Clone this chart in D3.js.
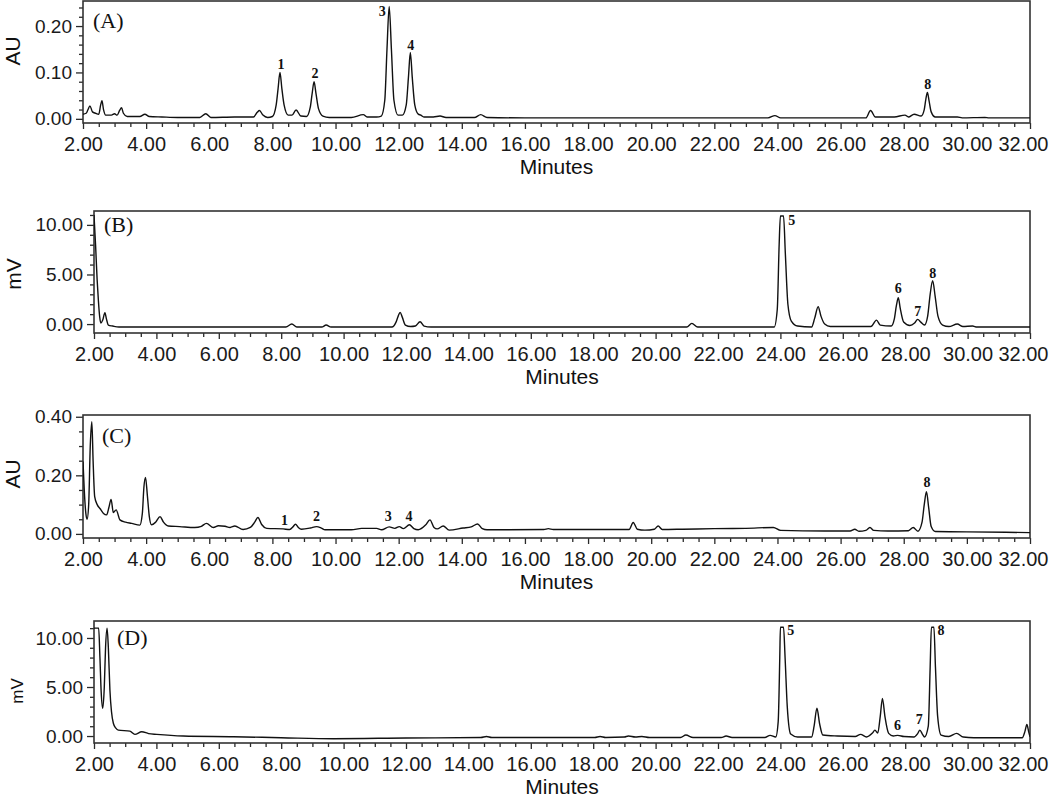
<!DOCTYPE html>
<html>
<head>
<meta charset="utf-8">
<script src="https://cdn.jsdelivr.net/npm/d3@7"></script>
<style>
body { margin: 0; background: #fff; }
svg { display: block; }
</style>
</head>
<body>
<div id="chart"></div>
<script>
// retention time axis, shared by all four runs
var xMajor = [2, 4, 6, 8, 10, 12, 14, 16, 18, 20, 22, 24, 26, 28, 30, 32];
var xMinor = [2.5, 3, 3.5, 4.5, 5, 5.5, 6.5, 7, 7.5, 8.5, 9, 9.5, 10.5, 11, 11.5, 12.5, 13, 13.5,
  14.5, 15, 15.5, 16.5, 17, 17.5, 18.5, 19, 19.5, 20.5, 21, 21.5, 22.5, 23, 23.5, 24.5, 25, 25.5,
  26.5, 27, 27.5, 28.5, 29, 29.5, 30.5, 31, 31.5];

// y ticks
var yMajorA = [0, 0.1, 0.2];
var yMinorA = [0.02, 0.04, 0.06, 0.08, 0.12, 0.14, 0.16, 0.18, 0.22, 0.24];
var yMajorB = [0, 5, 10];
var yMinorB = [1, 2, 3, 4, 6, 7, 8, 9, 11];
var yMajorC = [0, 0.2, 0.4];
var yMinorC = [0.05, 0.1, 0.15, 0.25, 0.3, 0.35];
var yMajorD = [0, 5, 10];
var yMinorD = [1, 2, 3, 4, 6, 7, 8, 9, 11];

// (A) standards, UV  [minutes, AU]
var traceA = [[2.00,0.010],[2.10,0.012],[2.16,0.020],[2.22,0.028],[2.30,0.015],[2.40,0.012],[2.50,0.010],
  [2.56,0.030],[2.60,0.039],[2.65,0.020],[2.72,0.008],[2.90,0.008],[3.00,0.011],[3.08,0.008],[3.16,0.018],
  [3.22,0.024],[3.28,0.012],[3.40,0.005],[3.80,0.005],[3.96,0.010],[4.10,0.005],[4.50,0.004],[5.00,0.003],
  [5.70,0.003],[5.89,0.011],[6.05,0.003],[6.80,0.004],[7.00,0.004],[7.40,0.004],[7.52,0.014],[7.59,0.018],
  [7.70,0.008],[7.85,0.003],[8.00,0.005],[8.12,0.030],[8.18,0.065],[8.24,0.100],[8.30,0.065],[8.37,0.030],
  [8.50,0.008],[8.62,0.008],[8.75,0.019],[8.90,0.006],[9.08,0.005],[9.20,0.025],[9.26,0.055],[9.32,0.080],
  [9.38,0.055],[9.46,0.022],[9.60,0.006],[9.80,0.003],[10.50,0.003],[10.88,0.009],[11.00,0.004],[11.30,0.004],
  [11.45,0.006],[11.56,0.040],[11.63,0.150],[11.70,0.242],[11.77,0.150],[11.85,0.040],[11.98,0.008],
  [12.12,0.008],[12.24,0.030],[12.31,0.090],[12.37,0.143],[12.43,0.090],[12.51,0.030],[12.62,0.010],
  [12.70,0.008],[12.80,0.004],[13.10,0.004],[13.31,0.006],[13.50,0.003],[14.40,0.003],[14.60,0.009],
  [14.80,0.003],[16.00,0.002],[23.70,0.002],[23.92,0.007],[24.10,0.002],[26.80,0.002],[26.95,0.018],
  [27.10,0.004],[27.40,0.004],[27.70,0.004],[28.04,0.008],[28.15,0.004],[28.33,0.010],[28.55,0.006],
  [28.65,0.020],[28.70,0.042],[28.75,0.057],[28.80,0.040],[28.87,0.015],[29.00,0.004],[29.70,0.004],
  [29.85,0.002],[30.57,0.003],[30.70,0.002],[32.00,0.002]];
var labelsA = [["1",8.27,0.108],["2",9.35,0.088],["3",11.48,0.2215],["4",12.38,0.148],["8",28.76,0.0645]];

// (B) standards, second detector  [minutes, mV]
var traceB = [[2.00,11.0],[2.05,8.0],[2.10,4.5],[2.14,2.4],[2.18,0.8],[2.22,0.1],[2.28,0.4],[2.35,1.15],
  [2.40,0.5],[2.46,-0.1],[2.60,-0.2],[2.80,-0.3],[4.00,-0.3],[8.15,-0.3],[8.34,0.0],[8.50,-0.3],[9.30,-0.3],
  [9.44,-0.1],[9.60,-0.3],[11.55,-0.3],[11.68,0.2],[11.75,0.8],[11.81,1.18],[11.88,0.7],[11.98,-0.1],
  [12.15,-0.25],[12.30,-0.2],[12.45,0.23],[12.58,-0.2],[12.80,-0.3],[21.00,-0.3],[21.16,0.07],[21.35,-0.3],
  [23.80,-0.3],[23.90,1.5],[23.96,8.0],[24.00,10.9],[24.10,10.9],[24.16,7.0],[24.24,2.0],[24.35,0.3],
  [24.55,-0.2],[25.00,-0.3],[25.10,0.6],[25.21,1.75],[25.30,0.8],[25.42,0.0],[25.60,-0.25],[26.90,-0.25],
  [27.08,0.4],[27.20,-0.1],[27.55,-0.2],[27.65,0.5],[27.72,1.9],[27.78,2.66],[27.84,1.6],[27.95,0.2],
  [28.15,-0.15],[28.30,0.1],[28.40,0.47],[28.50,0.2],[28.62,-0.1],[28.72,0.8],[28.80,3.0],[28.88,4.38],
  [28.96,2.8],[29.05,0.8],[29.20,-0.1],[29.40,-0.25],[29.67,0.0],[29.85,-0.25],[30.16,-0.2],[30.30,-0.3],
  [32.00,-0.3]];
var labelsB = [["5",24.36,10.0],["6",27.78,3.16],["7",28.40,0.81],["8",28.88,4.62]];

// (C) sample, UV
var traceC = [[2.00,0.247],[2.04,0.15],[2.09,0.07],[2.13,0.050],[2.18,0.10],[2.23,0.30],[2.28,0.383],
  [2.32,0.25],[2.37,0.127],[2.45,0.100],[2.55,0.085],[2.65,0.070],[2.75,0.065],[2.82,0.090],[2.89,0.118],
  [2.96,0.073],[3.05,0.082],[3.17,0.048],[3.35,0.040],[3.54,0.036],[3.80,0.030],[3.88,0.070],[3.93,0.160],
  [3.98,0.193],[4.04,0.130],[4.10,0.060],[4.17,0.031],[4.30,0.040],[4.44,0.059],[4.55,0.040],[4.70,0.027],
  [5.06,0.025],[5.54,0.022],[5.75,0.026],[5.91,0.036],[6.13,0.022],[6.29,0.028],[6.50,0.026],[6.66,0.022],
  [6.81,0.027],[7.07,0.015],[7.30,0.022],[7.44,0.040],[7.54,0.056],[7.66,0.032],[7.82,0.019],[8.34,0.017],
  [8.55,0.015],[8.65,0.024],[8.73,0.033],[8.82,0.022],[8.92,0.016],[9.20,0.020],[9.40,0.025],[9.55,0.020],
  [9.67,0.014],[10.50,0.014],[10.83,0.019],[11.30,0.019],[11.46,0.014],[11.70,0.024],[11.88,0.019],
  [12.02,0.025],[12.15,0.018],[12.34,0.031],[12.48,0.018],[12.62,0.014],[12.85,0.030],[12.99,0.048],
  [13.12,0.022],[13.22,0.017],[13.41,0.027],[13.60,0.013],[14.04,0.020],[14.30,0.024],[14.50,0.034],
  [14.65,0.018],[14.80,0.014],[16.60,0.015],[16.74,0.018],[16.90,0.015],[19.30,0.015],[19.43,0.039],
  [19.56,0.016],[19.80,0.013],[20.10,0.016],[20.22,0.027],[20.35,0.015],[21.00,0.016],[22.00,0.018],
  [23.00,0.019],[23.87,0.022],[24.10,0.012],[25.50,0.010],[26.30,0.010],[26.45,0.016],[26.58,0.009],
  [26.80,0.012],[26.93,0.022],[27.05,0.012],[27.50,0.010],[28.15,0.011],[28.30,0.022],[28.45,0.009],
  [28.58,0.040],[28.65,0.100],[28.72,0.144],[28.79,0.090],[28.87,0.025],[29.00,0.008],[30.00,0.007],
  [32.00,0.0045]];
var labelsC = [["1",8.38,0.031],["2",9.40,0.044],["3",11.67,0.045],["4",12.33,0.045],["8",28.74,0.159]];

// (D) sample, second detector
var traceD = [[2.00,11.0],[2.15,11.0],[2.19,8.0],[2.23,4.5],[2.28,2.83],[2.33,5.0],[2.37,9.0],[2.42,11.0],
  [2.46,9.0],[2.51,4.7],[2.56,2.5],[2.62,1.3],[2.70,0.8],[2.78,0.6],[3.15,0.5],[3.31,0.17],[3.53,0.44],
  [3.75,0.25],[4.01,0.17],[4.86,0.0],[6.47,-0.07],[8.00,-0.17],[9.68,-0.27],[12.00,-0.2],[14.40,-0.15],
  [14.58,-0.05],[14.75,-0.15],[18.05,-0.15],[18.22,-0.05],[18.40,-0.15],[19.00,-0.1],[19.13,0.0],
  [19.35,-0.1],[19.56,-0.05],[19.80,-0.15],[20.80,-0.15],[20.97,0.1],[21.20,-0.15],[22.10,-0.15],
  [22.26,0.0],[22.45,-0.15],[23.50,-0.15],[23.67,0.07],[23.85,-0.1],[23.93,1.5],[23.98,8.0],[24.00,11.1],
  [24.10,11.1],[24.15,8.0],[24.22,3.0],[24.33,0.2],[24.55,-0.1],[25.00,-0.1],[25.08,1.0],[25.17,2.83],
  [25.26,1.2],[25.36,0.1],[25.83,0.0],[26.40,-0.05],[26.57,0.17],[26.76,-0.1],[26.95,0.3],[27.03,0.6],
  [27.12,0.3],[27.20,2.0],[27.27,3.84],[27.35,2.0],[27.47,0.27],[27.62,0.0],[27.76,0.07],[27.96,-0.05],
  [28.28,-0.1],[28.40,0.25],[28.47,0.6],[28.55,0.2],[28.62,-0.1],[28.74,1.0],[28.80,7.0],[28.84,11.1],
  [28.92,11.1],[28.97,7.0],[29.04,2.0],[29.15,0.1],[29.40,-0.05],[29.65,0.27],[29.86,-0.1],[30.20,-0.17],
  [31.75,-0.17],[31.84,0.5],[31.90,1.19],[31.96,0.4],[32.00,-0.07]];
var labelsD = [["5",24.33,10.31],["6",27.75,0.61],["7",28.45,1.22],["8",29.15,10.31]];

var w = 1050;
var h = 799;
var sans = "'Liberation Sans', Arial, sans-serif";
var serif = "'Liberation Serif', 'Times New Roman', serif";

var svg = d3.select("#chart")
  .append("svg")
  .attr("width", w)
  .attr("height", h);

var panels = [
  { tag: "(A)", trace: traceA, labels: labelsA, yDomain: [-0.009, 0.254], yMajor: yMajorA, yMinor: yMinorA,
    unit: "AU", left: 83, top: 1, bottom: 123, unitX: 20, unitY: 51, unitSize: 21, tagX: 93, tagY: 28 },
  { tag: "(B)", trace: traceB, labels: labelsB, yDomain: [-0.9, 11.4], yMajor: yMajorB, yMinor: yMinorB,
    unit: "mV", left: 94, top: 211, bottom: 333, unitX: 21, unitY: 274, unitSize: 21, tagX: 104, tagY: 232 },
  { tag: "(C)", trace: traceC, labels: labelsC, yDomain: [-0.014, 0.406], yMajor: yMajorC, yMinor: yMinorC,
    unit: "AU", left: 83, top: 415, bottom: 538, unitX: 20, unitY: 474, unitSize: 21, tagX: 102, tagY: 443 },
  { tag: "(D)", trace: traceD, labels: labelsD, yDomain: [-0.71, 11.73], yMajor: yMajorD, yMinor: yMinorD,
    unit: "mV", left: 94, top: 621, bottom: 743, unitX: 23, unitY: 691, unitSize: 17, tagX: 117, tagY: 645 }
];
var right = 1030;

panels.forEach(function(p, i) {
  var x = d3.scaleLinear().domain([2, 32]).range([p.left, right]);
  var y = d3.scaleLinear().domain(p.yDomain).range([p.bottom, p.top]);
  var g = svg.append("g");

  g.append("clipPath").attr("id", "clip" + i)
    .append("rect")
    .attr("x", p.left).attr("y", p.top)
    .attr("width", right - p.left).attr("height", p.bottom - p.top);

  // x axis, minor then major
  var xm = g.append("g").attr("transform", "translate(0," + p.bottom + ")")
    .call(d3.axisBottom(x).tickValues(xMinor).tickSize(4).tickFormat(""));
  xm.select(".domain").remove();
  var xa = g.append("g").attr("transform", "translate(0," + p.bottom + ")")
    .call(d3.axisBottom(x).tickValues(xMajor).tickSize(6).tickPadding(8).tickFormat(d3.format(".2f")));
  xa.select(".domain").remove();
  xa.attr("font-size", 20).attr("font-family", sans);
  // the last label is pulled in so it stays on the page
  xa.selectAll(".tick text")
    .filter(function(d) { return d === 32; })
    .attr("text-anchor", "end")
    .attr("x", w - 2 - right);

  // y axis
  var ym = g.append("g").attr("transform", "translate(" + p.left + ",0)")
    .call(d3.axisLeft(y).tickValues(p.yMinor).tickSize(4).tickFormat(""));
  ym.select(".domain").remove();
  var ya = g.append("g").attr("transform", "translate(" + p.left + ",0)")
    .call(d3.axisLeft(y).tickValues(p.yMajor).tickSize(7).tickPadding(4).tickFormat(d3.format(".2f")));
  ya.select(".domain").remove();
  ya.attr("font-size", 19).attr("font-family", sans);

  [xm, xa, ym, ya].forEach(function(a) {
    a.style("color", "#2a2a2a");
    a.selectAll("line").attr("stroke-width", 1.3);
    a.selectAll("text").attr("fill", "#1a1a1a");
  });

  g.append("rect")
    .attr("x", p.left).attr("y", p.top)
    .attr("width", right - p.left).attr("height", p.bottom - p.top)
    .attr("fill", "none")
    .attr("stroke", "#333")
    .attr("stroke-width", 1.6);

  var line = d3.line()
    .x(function(d) { return x(d[0]); })
    .y(function(d) { return y(d[1]); })
    .curve(d3.curveMonotoneX);

  g.append("path")
    .datum(p.trace)
    .attr("clip-path", "url(#clip" + i + ")")
    .attr("d", line)
    .attr("fill", "none")
    .attr("stroke", "#111")
    .attr("stroke-width", 1.4)
    .attr("stroke-linejoin", "round");

  g.selectAll("text.peak")
    .data(p.labels)
    .enter()
    .append("text")
    .attr("class", "peak")
    .attr("x", function(d) { return x(d[1]); })
    .attr("y", function(d) { return y(d[2]); })
    .attr("text-anchor", "middle")
    .attr("font-family", serif)
    .attr("font-weight", "bold")
    .attr("font-size", 14)
    .attr("fill", "#111")
    .text(function(d) { return d[0]; });

  g.append("text")
    .attr("x", p.tagX).attr("y", p.tagY)
    .attr("font-family", serif)
    .attr("font-size", 22)
    .attr("fill", "#111")
    .text(p.tag);

  g.append("text")
    .attr("x", (p.left + right) / 2)
    .attr("y", p.bottom + 51)
    .attr("text-anchor", "middle")
    .attr("font-family", sans)
    .attr("font-size", 21)
    .attr("fill", "#111")
    .text("Minutes");

  g.append("text")
    .attr("transform", "translate(" + p.unitX + "," + p.unitY + ") rotate(-90)")
    .attr("text-anchor", "middle")
    .attr("font-family", sans)
    .attr("font-size", p.unitSize)
    .attr("fill", "#111")
    .text(p.unit);
});
</script>
</body>
</html>
